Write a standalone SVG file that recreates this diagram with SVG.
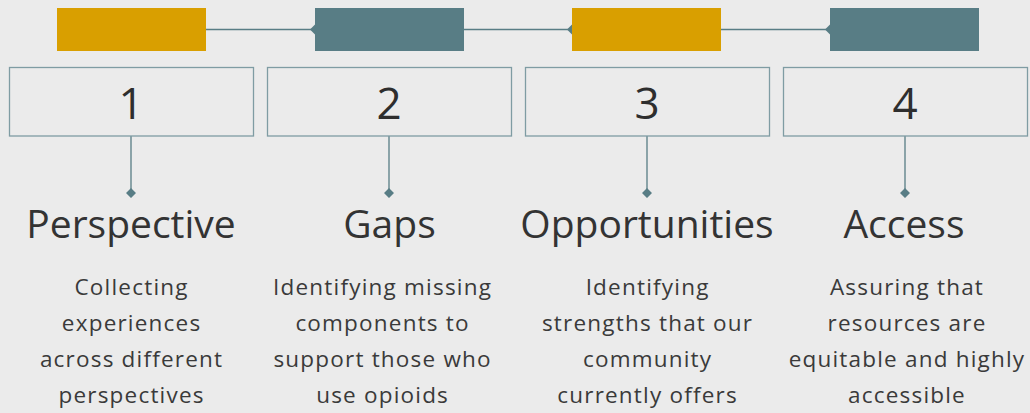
<svg xmlns="http://www.w3.org/2000/svg" width="1030" height="413" viewBox="0 0 1030 413">
<defs>
<style>
.bg{fill:#EBEBEB}
.gold{fill:#D99F00}
.teal{fill:#587D85}
.box{fill:none;stroke:#7F9CA3;stroke-width:1.3}
.ln{stroke:#587D85;stroke-width:1.3;fill:none}
.dia{fill:#587D85}
.num{font-family:"Open Sans","Noto Sans",sans-serif;font-size:44px;fill:#2E2E2E;text-anchor:middle}
.ttl{font-family:"Open Sans","Noto Sans",sans-serif;font-size:39px;fill:#333333;text-anchor:middle}
.txt{font-family:"Open Sans","Noto Sans",sans-serif;font-size:22.5px;letter-spacing:1.2px;fill:#3A3A3A;text-anchor:middle}
</style>
</defs>
<rect class="bg" x="0" y="0" width="1030" height="413"/>
<g id="connectors">
<path class="ln" d="M206 29.5H315M464 29.5H572M721 29.5H830"/>
<path class="dia" d="M310 29.5l5-5v10z"/>
<path class="dia" d="M567 29.5l5-5 5 5-5 5z"/>
<path class="dia" d="M825 29.5l5-5v10z"/>
<path class="ln" d="M131 136V190M389 136V190M647 136V190M905 136V190"/>
<path class="dia" d="M131 188l5 5-5 5-5-5zM389 188l5 5-5 5-5-5zM647 188l5 5-5 5-5-5zM905 188l5 5-5 5-5-5z"/>
</g>
<g id="bar1"><rect class="gold" x="57" y="8" width="149" height="43"/></g>
<g id="bar2"><rect class="teal" x="315" y="8" width="149" height="43"/></g>
<g id="bar3"><rect class="gold" x="572" y="8" width="149" height="43"/></g>
<g id="bar4"><rect class="teal" x="830" y="8" width="149" height="43"/></g>
<g id="node1">
<rect class="box" x="9.5" y="67.5" width="244" height="68.5"/>
<text class="num" x="131" y="119">1</text>
<text class="ttl" x="131" y="238">Perspective</text>
<text class="txt" x="131.6" y="295">Collecting</text>
<text class="txt" x="131.6" y="331">experiences</text>
<text class="txt" x="131.6" y="367">across different</text>
<text class="txt" x="131.6" y="403">perspectives</text>
</g>
<g id="node2">
<rect class="box" x="267.5" y="67.5" width="244" height="68.5"/>
<text class="num" x="389" y="119">2</text>
<text class="ttl" x="389.5" y="238">Gaps</text>
<text class="txt" x="382.6" y="295">Identifying missing</text>
<text class="txt" x="382.6" y="331">components to</text>
<text class="txt" x="382.6" y="367">support those who</text>
<text class="txt" x="382.6" y="403">use opioids</text>
</g>
<g id="node3">
<rect class="box" x="525.5" y="67.5" width="244" height="68.5"/>
<text class="num" x="647" y="119">3</text>
<text class="ttl" x="647" y="238">Opportunities</text>
<text class="txt" x="647.6" y="295">Identifying</text>
<text class="txt" x="647.6" y="331">strengths that our</text>
<text class="txt" x="647.6" y="367">community</text>
<text class="txt" x="647.6" y="403">currently offers</text>
</g>
<g id="node4">
<rect class="box" x="783.5" y="67.5" width="244" height="68.5"/>
<text class="num" x="905" y="119">4</text>
<text class="ttl" x="904" y="238">Access</text>
<text class="txt" x="907" y="295">Assuring that</text>
<text class="txt" x="907" y="331">resources are</text>
<text class="txt" x="907" y="367">equitable and highly</text>
<text class="txt" x="907" y="403">accessible</text>
</g>
</svg>
